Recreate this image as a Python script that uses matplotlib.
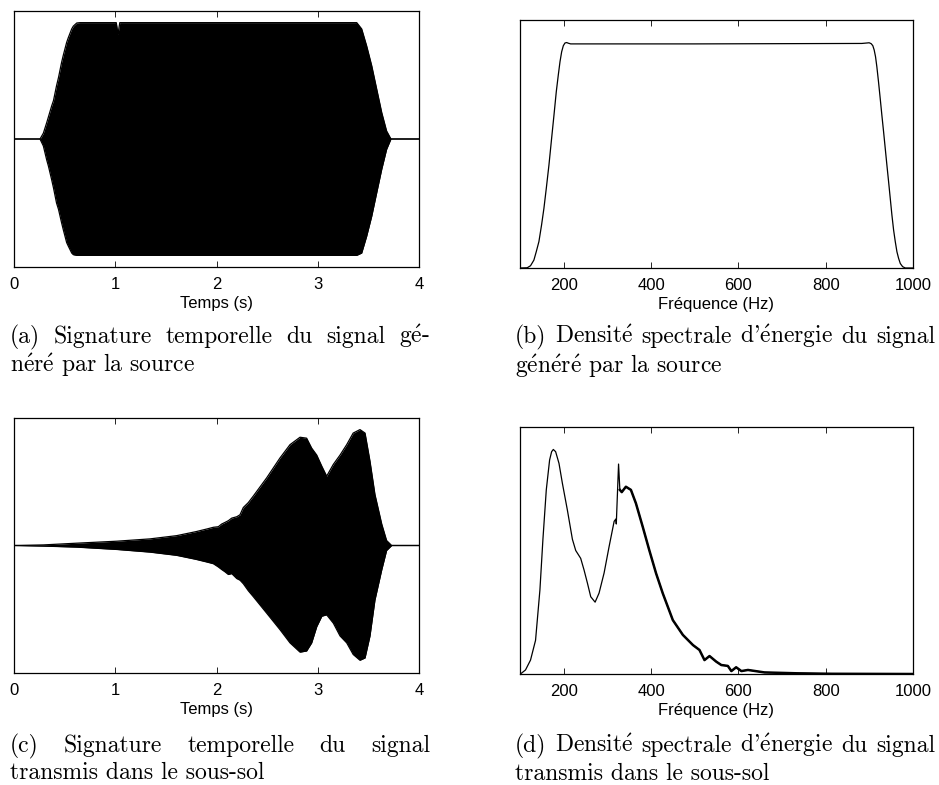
import numpy as np
import matplotlib
matplotlib.use('Agg')
import matplotlib.pyplot as plt

# (a) source signal: envelope of the chirp (time in s, amplitude)
t_src = [0.0, 0.257, 0.29, 0.323, 0.34, 0.372, 0.39, 0.42, 0.44, 0.47, 0.487, 0.52, 0.536,
         0.57, 0.586, 0.62, 0.652, 1.01, 1.022, 1.027, 1.034, 1.045, 3.385, 3.434, 3.483,
         3.533, 3.582, 3.632, 3.68, 3.723, 4.0]
up_src = [0.0, 0.0, 0.05, 0.14, 0.19, 0.284, 0.33, 0.457, 0.53, 0.658, 0.72, 0.83, 0.87,
          0.946, 0.97, 0.997, 1.0, 1.0, 0.93, 0.90, 0.94, 1.0, 1.0, 0.946, 0.80,
          0.63, 0.43, 0.227, 0.069, 0.0, 0.0]
lo_src = [0.0, 0.0, -0.06, -0.18, -0.233, -0.35, -0.42, -0.55, -0.606, -0.72, -0.78, -0.89, -0.92,
          -0.98, -0.994, -1.0, -1.0, -1.0, -1.0, -1.0, -1.0, -1.0, -1.0, -0.98, -0.836,
          -0.664, -0.463, -0.26, -0.089, 0.0, 0.0]

# (b) source energy spectral density
f_src = [100, 116.5, 124.1, 131.8, 137.2, 143.3, 149.4, 154.8, 160.2, 166.3, 172.4, 177.8,
         183.1, 187.7, 191.6, 195.4, 199.2, 203, 206.9, 210.7, 216, 500, 882.8, 894.3,
         899.6, 904.2, 908, 911.1, 914.2, 917.2, 921, 924.9, 928.7, 932.6, 936.4, 940.2,
         944.1, 947.9, 951.7, 955.6, 959.4, 963.2, 967, 970.9, 976.2, 982.4, 1000]
dse_src = [0.0, 0.001, 0.010, 0.035, 0.072, 0.117, 0.191, 0.265, 0.353, 0.457, 0.575, 0.678,
           0.782, 0.856, 0.915, 0.959, 0.986, 0.998, 1.0, 0.997, 0.994, 0.994, 0.996, 0.998,
           0.999, 0.995, 0.986, 0.967, 0.937, 0.893, 0.826, 0.752, 0.678, 0.605, 0.531, 0.457,
           0.383, 0.309, 0.235, 0.168, 0.117, 0.072, 0.043, 0.020, 0.006, 0.0, 0.0]

# (c) transmitted signal envelope
t_tr = [0.0, 0.29, 0.62, 1.014, 1.343, 1.607, 1.80, 1.837, 1.903, 1.969, 2.018, 2.051, 2.084,
        2.117, 2.15, 2.2, 2.232, 2.265, 2.314, 2.364, 2.496, 2.627, 2.726, 2.825, 2.89, 2.94,
        2.99, 3.04, 3.088, 3.154, 3.22, 3.286, 3.35, 3.417, 3.467, 3.516, 3.565, 3.632, 3.68,
        3.73, 4.0]
up_tr = [0.0, 0.005, 0.02, 0.037, 0.057, 0.085, 0.12, 0.128, 0.142, 0.157, 0.162, 0.185, 0.199,
         0.214, 0.236, 0.248, 0.265, 0.328, 0.37, 0.427, 0.584, 0.755, 0.87, 0.934, 0.926, 0.84,
         0.78, 0.684, 0.598, 0.70, 0.78, 0.87, 0.97, 1.0, 0.97, 0.727, 0.44, 0.185, 0.043,
         0.0, 0.0]
lo_tr = [0.0, -0.005, -0.014, -0.034, -0.057, -0.085, -0.12, -0.128, -0.142, -0.157, -0.185, -0.207, -0.227,
         -0.25, -0.242, -0.285, -0.299, -0.33, -0.39, -0.442, -0.584, -0.726, -0.84, -0.92, -0.91, -0.84,
         -0.70, -0.61, -0.598, -0.67, -0.78, -0.84, -0.94, -0.99, -0.97, -0.78, -0.47, -0.21, -0.043,
         0.0, 0.0]

# (d) transmitted energy spectral density
f_tr = [100, 101, 112.6, 124.1, 135.6, 145.6, 152.5, 160.2, 167.8, 172.4, 176.3, 181.6, 189.3,
        197, 208.5, 220, 227.6, 239, 246.7, 254.5, 262, 272, 281, 292.6, 304, 315.6, 319.5,
        320.5, 325.7, 328.7, 333, 342.5, 354, 365.5, 381, 396, 411.5, 427, 450, 473, 496, 511,
        522.5, 534, 549.4, 561, 576, 584, 595, 607, 622, 660, 737, 814, 1000]
dse_tr = [0.0, 0.0, 0.018, 0.062, 0.15, 0.374, 0.60, 0.82, 0.953, 0.99, 1.0, 0.99, 0.938,
          0.85, 0.73, 0.60, 0.55, 0.515, 0.463, 0.404, 0.344, 0.32, 0.36, 0.45, 0.567, 0.68, 0.69,
          0.668, 0.935, 0.82, 0.81, 0.834, 0.82, 0.76, 0.656, 0.552, 0.449, 0.359, 0.24, 0.174, 0.129, 0.107,
          0.062, 0.08, 0.055, 0.04, 0.036, 0.013, 0.03, 0.013, 0.018, 0.007, 0.003, 0.001, 0.0]

W, H = 939, 785
plt.rcParams['font.family'] = ['Liberation Sans', 'DejaVu Sans']
plt.rcParams['font.size'] = 12
plt.rcParams['mathtext.fontset'] = 'cm'
cap_font = dict(family='cmr10', size=17)
E_ACUTE = r'$\acute{\mathrm{e}}$'

fig = plt.figure(figsize=(W / 100, H / 100), dpi=100)


def make_axes(left, top, right, bottom):
    return fig.add_axes([left / W, 1 - bottom / H, (right - left) / W, (bottom - top) / H])


def style(ax, xlim, xticks, xlabel):
    ax.set_xlim(*xlim)
    ax.set_xticks(xticks)
    ax.set_yticks([])
    ax.tick_params(axis='x', direction='in', top=True, length=4, width=0.6, pad=7, labelsize=12)
    for s in ax.spines.values():
        s.set_linewidth(0.9)
    ax.set_xlabel(xlabel, fontsize=12, labelpad=3)


def envelope(ax, t, up, lo):
    ax.fill_between(t, lo, up, color='black', linewidth=0)
    ax.plot(t, up, color='black', lw=0.9)
    ax.plot(t, lo, color='black', lw=0.9)
    ax.set_ylim(-1.1, 1.1)


ax_a = make_axes(14, 11, 419, 267)
envelope(ax_a, t_src, up_src, lo_src)
style(ax_a, (0, 4), [0, 1, 2, 3, 4], 'Temps (s)')

ax_b = make_axes(520, 20, 913, 268)
ax_b.plot(f_src, dse_src, color='black', lw=0.9)
ax_b.set_ylim(0, 1.1)
style(ax_b, (100, 1000), [200, 400, 600, 800, 1000], 'Fréquence (Hz)')

ax_c = make_axes(14, 418, 419, 673)
envelope(ax_c, t_tr, up_tr, lo_tr)
style(ax_c, (0, 4), [0, 1, 2, 3, 4], 'Temps (s)')

ax_d = make_axes(520, 427, 913, 674)
f_tr_arr = np.array(f_tr)
dse_tr_arr = np.array(dse_tr)
ax_d.plot(f_tr_arr, dse_tr_arr, color='black', lw=0.9)
noisy = f_tr_arr >= 326
ax_d.plot(f_tr_arr[noisy], dse_tr_arr[noisy], color='black', lw=1.8)
ax_d.set_ylim(0, 1.1)
style(ax_d, (100, 1000), [200, 400, 600, 800, 1000], 'Fréquence (Hz)')


renderer = fig.canvas.get_renderer()


def caption_line(text, x0, y, x1=None):
    # x0, x1, y in pixels (y from top, baseline); x1 given -> justified line
    text = text.replace('é', E_ACUTE)
    if x1 is None:
        fig.text(x0 / W, 1 - y / H, text, va='baseline', ha='left', **cap_font)
        return
    words = text.split(' ')
    objs = [fig.text(0, 1 - y / H, w, va='baseline', ha='left', **cap_font) for w in words]
    widths = [o.get_window_extent(renderer).width for o in objs]
    gap = (x1 - x0 - sum(widths)) / (len(words) - 1)
    x = x0
    for o, w in zip(objs, widths):
        o.set_x(x / W)
        x += w + gap


caption_line("(a) Signature temporelle du signal gé-", 10, 343, 430)
caption_line("néré par la source", 10, 372)
caption_line("(b) Densité spectrale d'énergie du signal", 515, 343, 935)
caption_line("généré par la source", 515, 373)
caption_line("(c) Signature temporelle du signal", 10, 752, 430)
caption_line("transmis dans le sous-sol", 10, 779)
caption_line("(d) Densité spectrale d'énergie du signal", 515, 752, 935)
caption_line("transmis dans le sous-sol", 515, 780)

fig.savefig('out.png', dpi=100)
